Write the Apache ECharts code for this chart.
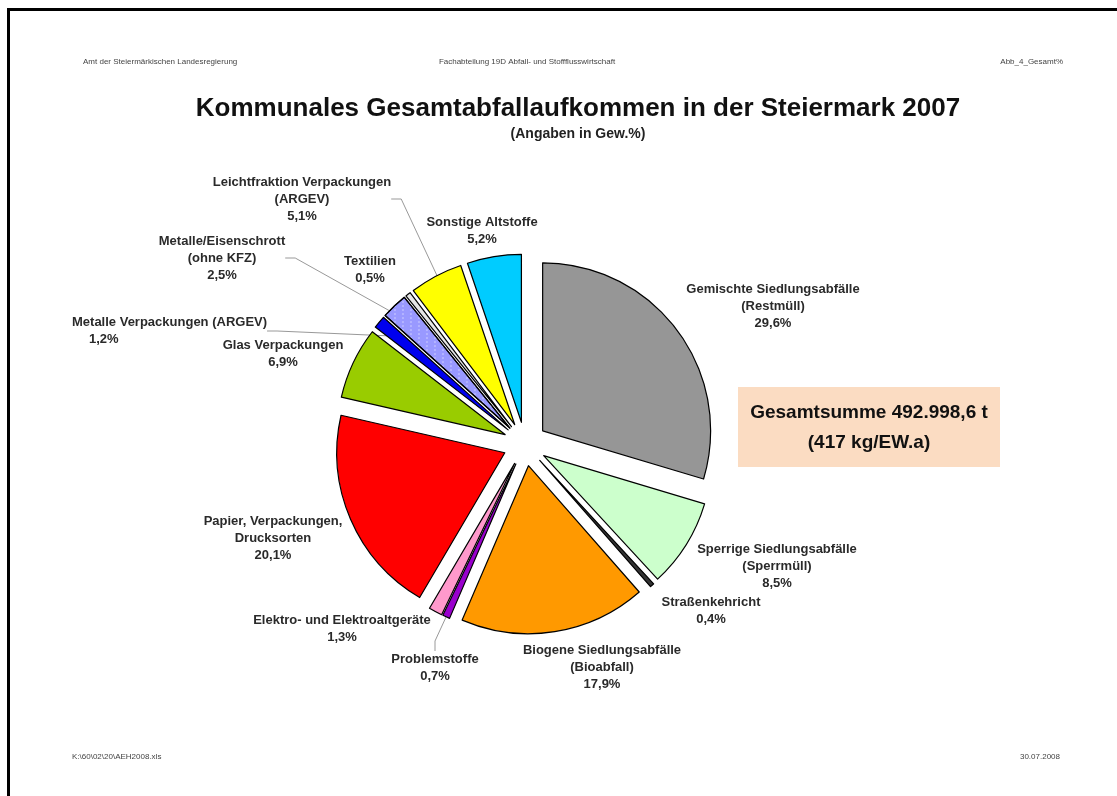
<!DOCTYPE html>
<html>
<head>
<meta charset="utf-8">
<script src="https://cdn.jsdelivr.net/npm/echarts@6/dist/echarts.min.js"></script>
<style>
html,body{margin:0;padding:0;background:#fff;}
#chart{width:1117px;height:796px;}
</style>
</head>
<body>
<div id="chart"></div>
<script>
// ---- data ----
const categories = [
  'Gemischte Siedlungsabfälle\n(Restmüll)',
  'Sperrige Siedlungsabfälle\n(Sperrmüll)',
  'Straßenkehricht',
  'Biogene Siedlungsabfälle\n(Bioabfall)',
  'Problemstoffe',
  'Elektro- und Elektroaltgeräte',
  'Papier, Verpackungen,\nDrucksorten',
  'Glas Verpackungen',
  'Metalle Verpackungen (ARGEV)',
  'Metalle/Eisenschrott\n(ohne KFZ)',
  'Textilien',
  'Leichtfraktion Verpackungen\n(ARGEV)',
  'Sonstige Altstoffe'
];
const values = [29.6, 8.5, 0.4, 17.9, 0.7, 1.3, 20.1, 6.9, 1.2, 2.5, 0.5, 5.1, 5.2];
const titleText = 'Kommunales Gesamtabfallaufkommen in der Steiermark 2007';
const subtitleText = '(Angaben in Gew.%)';
const totalLines = ['Gesamtsumme 492.998,6 t', '(417 kg/EW.a)'];
const headerTexts = ['Amt der Steiermärkischen Landesregierung', 'Fachabteilung 19D Abfall- und Stoffflusswirtschaft', 'Abb_4_Gesamt%'];
const footerTexts = ['K:\\60\\02\\20\\AEH2008.xls', '30.07.2008'];

// ---- styles / layout ----
const colors = ['#969696', '#ccffcc', '#333333', '#ff9900', '#9900cc', '#ff99cc', '#ff0000',
                '#99cc00', '#0000ee', '#9999ff', '#e6e6e6', '#ffff00', '#00ccff'];
const labelPos = [[773,306],[777,566],[711,611],[602,667],[435,668],[342,629],[273,538],
                  [283,354],[72,331],[222,258],[370,270],[302,199],[482,231]];
const labelAlign = ['center','center','center','center','center','center','center',
                    'center','left','center','center','center','center'];
const showLine = [false,false,false,false,true,false,false,false,true,true,false,true,false];

function fmt(v){ return v.toFixed(1).replace('.', ',') + '%'; }

const sliceData = categories.map((c, i) => {
  const item = { name: c, value: values[i], selected: true, itemStyle: { color: colors[i] } };
  if (i === 9) {
    item.itemStyle.decal = { symbol: 'circle', symbolSize: 0.35, color: 'rgba(255,255,255,0.75)', dashArrayX: [[4, 4]], dashArrayY: [4, 0] };
  }
  return item;
});
const labelData = categories.map((c, i) => ({
  name: c, value: values[i], labelLine: { show: showLine[i] }
}));

const chart = echarts.init(document.getElementById('chart'), null, { renderer: 'canvas' });
const FONT = '"Liberation Sans", Arial, sans-serif';
const CENTER = [525, 444];
const RADIUS = 168;
const option = {
  backgroundColor: '#ffffff',
  animation: false,
  title: [
    { text: titleText, left: 573, top: 91, textAlign: 'center',
      textStyle: { fontFamily: FONT, fontSize: 26, fontWeight: 'bold', color: '#111' } },
    { text: subtitleText, left: 573, top: 122, textAlign: 'center',
      textStyle: { fontFamily: FONT, fontSize: 14, fontWeight: 'bold', color: '#222' } }
  ],
  graphic: [
    { type: 'polyline', shape: { points: [[8.5, 796], [8.5, 9.5], [1117, 9.5]] },
      style: { stroke: '#000', lineWidth: 3, fill: null } },
    { type: 'text', x: 83, y: 62, style: { text: headerTexts[0], font: '8px ' + FONT, fill: '#444', textAlign: 'left', textVerticalAlign: 'middle' } },
    { type: 'text', x: 527, y: 62, style: { text: headerTexts[1], font: '8px ' + FONT, fill: '#444', textAlign: 'center', textVerticalAlign: 'middle' } },
    { type: 'text', x: 1063, y: 62, style: { text: headerTexts[2], font: '8px ' + FONT, fill: '#444', textAlign: 'right', textVerticalAlign: 'middle' } },
    { type: 'text', x: 72, y: 757, style: { text: footerTexts[0], font: '8px ' + FONT, fill: '#444', textAlign: 'left', textVerticalAlign: 'middle' } },
    { type: 'text', x: 1060, y: 757, style: { text: footerTexts[1], font: '8px ' + FONT, fill: '#444', textAlign: 'right', textVerticalAlign: 'middle' } },
    { type: 'rect', shape: { x: 738, y: 387, width: 262, height: 80 }, style: { fill: '#fbdcc2' } },
    { type: 'text', x: 869, y: 413, style: { text: totalLines[0], font: 'bold 19px ' + FONT, fill: '#111', textAlign: 'center', textVerticalAlign: 'middle' } },
    { type: 'text', x: 869, y: 443, style: { text: totalLines[1], font: 'bold 19px ' + FONT, fill: '#111', textAlign: 'center', textVerticalAlign: 'middle' } }
  ],
  series: [
    {
      type: 'pie',
      center: CENTER,
      radius: RADIUS,
      startAngle: 90,
      clockwise: true,
      selectedMode: 'multiple',
      selectedOffset: 22,
      avoidLabelOverlap: false,
      emphasis: { disabled: true },
      silent: true,
      itemStyle: { borderColor: '#000', borderWidth: 1.2 },
      select: { itemStyle: { borderColor: '#000', borderWidth: 1.2 } },
      label: { show: false },
      labelLine: { show: false },
      data: sliceData
    },
    {
      type: 'pie',
      center: CENTER,
      radius: RADIUS,
      startAngle: 90,
      clockwise: true,
      selectedMode: false,
      avoidLabelOverlap: false,
      emphasis: { disabled: true },
      silent: true,
      z: 1,
      itemStyle: { color: 'rgba(0,0,0,0)', borderWidth: 0 },
      label: {
        show: true,
        position: 'outside',
        fontFamily: FONT,
        fontSize: 13,
        fontWeight: 'bold',
        color: '#2a2a2a',
        lineHeight: 17,
        formatter: function (p) {
          if (p.dataIndex === 8) return '{a|' + p.name + '}\n{b|' + fmt(p.value) + '}';
          return p.name + '\n' + fmt(p.value);
        },
        rich: {
          a: { fontFamily: FONT, fontSize: 13, fontWeight: 'bold', color: '#2a2a2a', lineHeight: 17 },
          b: { fontFamily: FONT, fontSize: 13, fontWeight: 'bold', color: '#2a2a2a', lineHeight: 17, align: 'left', padding: [0, 0, 0, 17] }
        }
      },
      labelLine: { show: true, length: 10, length2: 10, lineStyle: { color: '#999', width: 1 } },
      labelLayout: function (params) {
        const i = params.dataIndex;
        return { x: labelPos[i][0], y: labelPos[i][1], align: labelAlign[i], verticalAlign: 'middle' };
      },
      data: labelData
    }
  ]
};
chart.setOption(option);
</script>
</body>
</html>
